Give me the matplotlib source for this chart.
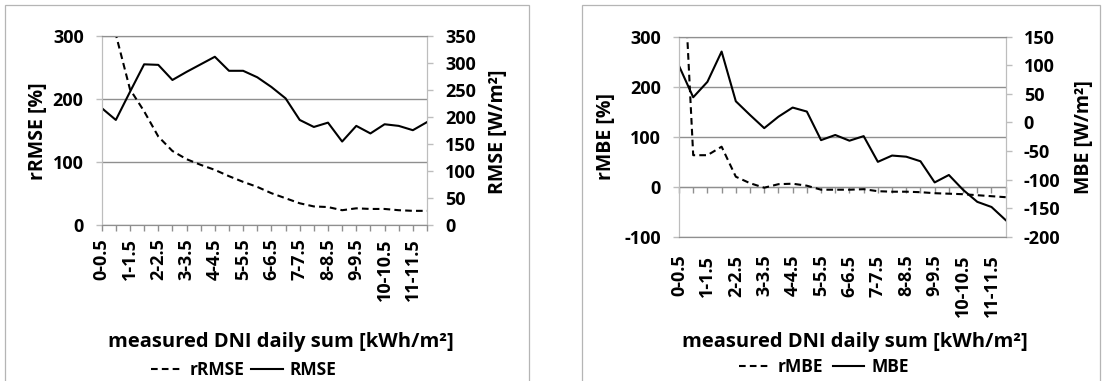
import matplotlib
matplotlib.use("Agg")
import matplotlib.pyplot as plt
from matplotlib.lines import Line2D
from matplotlib.patches import Rectangle
import numpy as np

plt.rcParams['font.family'] = ['Open Sans', 'DejaVu Sans']
plt.rcParams['font.weight'] = 'bold'
plt.rcParams['axes.unicode_minus'] = False

# ---- data ----
categories = ["0-0.5", "0.5-1", "1-1.5", "1.5-2", "2-2.5", "2.5-3", "3-3.5", "3.5-4",
              "4-4.5", "4.5-5", "5-5.5", "5.5-6", "6-6.5", "6.5-7", "7-7.5", "7.5-8",
              "8-8.5", "8.5-9", "9-9.5", "9.5-10", "10-10.5", "10.5-11", "11-11.5", "11.5-12"]

rrmse = [700, 302, 215, 180, 140, 117, 104, 95, 87, 77, 68, 60,
         50, 42, 34, 29, 28, 23, 26, 25, 25, 23, 22, 22]
rmse = [216, 194, 246, 297, 296, 268, 283, 297, 311, 285, 285, 273,
        255, 234, 194, 181, 189, 154, 183, 169, 186, 183, 175, 190]

rmbe = [630, 63, 63, 80, 20, 7, -2, 5, 6, 2, -6, -6,
        -6, -5, -9, -10, -10, -11, -13, -14, -15, -17, -19, -21]
mbe = [99, 44, 71, 124, 37, 13, -10, 10, 26, 19, -31, -22,
       -32, -24, -69, -58, -60, -68, -105, -92, -118, -139, -148, -171]

left_ticks_1 = [0, 100, 200, 300]
right_ticks_1 = [0, 50, 100, 150, 200, 250, 300, 350]
left_ticks_2 = [-100, 0, 100, 200, 300]
right_ticks_2 = [-200, -150, -100, -50, 0, 50, 100, 150]

xlabel = "measured DNI daily sum [kWh/m²]"

# ---- style ----
W, H = 1102, 381
fig = plt.figure(figsize=(W / 100, H / 100), dpi=100)
GRID = '#8f8f8f'
SPINE = '#bdbdbd'
FS = 13
YLFS = 14
XLFS = 14.5
LW = 1.5
DASH = (3.2, 2.0)

def px(x0, y0, x1, y1):
    return [x0 / W, 1 - y1 / H, (x1 - x0) / W, (y1 - y0) / H]

def ftext(x, y, s, size, rot=0):
    fig.text(x / W, 1 - y / H, s, ha='center', va='center', rotation=rot,
             fontsize=size, fontweight='bold')

def frame(x0, x1):
    fig.patches.append(Rectangle((x0 / W, -0.1), (x1 - x0) / W, 1.1 - 5 / H,
                                 transform=fig.transFigure, fill=False,
                                 edgecolor='#b5b5b5', lw=0.9))

xs = np.arange(len(categories))
labels = [c if i % 2 == 0 else "" for i, c in enumerate(categories)]

def setup(ax, ax2, lt, rt):
    ax.set_xlim(0, len(categories) - 1)
    ax.set_ylim(lt[0], lt[-1])
    ax2.set_ylim(rt[0], rt[-1])
    ax.set_yticks(lt)
    ax2.set_yticks(rt)
    ax.yaxis.grid(True, color=GRID, lw=1.0)
    ax.set_axisbelow(True)
    for a in (ax, ax2):
        a.spines['top'].set_color(GRID)
        a.spines['bottom'].set_color(GRID)
        a.spines['left'].set_color(SPINE)
        a.spines['right'].set_color(SPINE)
        a.tick_params(axis='y', length=4, width=1, color=SPINE, pad=9,
                      labelsize=FS)
    ax.set_xticks(xs)
    ax.set_xticklabels(labels, rotation=90, fontsize=FS, fontweight='bold')
    for t in ax.get_yticklabels() + ax2.get_yticklabels():
        t.set_fontweight('bold')

# ---- left chart ----
frame(5, 529)
ax = fig.add_axes(px(101.7, 35.7, 427, 224.7))
ax2 = ax.twinx()
ax.plot(xs, rrmse, color='black', lw=LW, dashes=DASH)
ax2.plot(xs, rmse, color='black', lw=LW)
setup(ax, ax2, left_ticks_1, right_ticks_1)
ax.tick_params(axis='x', length=4, width=1, color=GRID, pad=6)
ftext(38, 131, "rRMSE [%]", YLFS, 90)
ftext(498, 132, "RMSE [W/m²]", YLFS, 90)
ftext(281, 342, xlabel, XLFS)
h1 = [Line2D([], [], color='black', lw=LW, dashes=DASH),
      Line2D([], [], color='black', lw=LW)]
fig.legend(h1, ["rRMSE", "RMSE"], loc='center', bbox_to_anchor=(244 / W, 1 - 370 / H),
           ncol=2, frameon=False, handlelength=1.8, handletextpad=0.4,
           columnspacing=0.4, prop={'size': FS - 0.5, 'weight': 'bold'})

# ---- right chart ----
frame(582, 1100)
bx = fig.add_axes(px(679, 36.7, 1005.7, 236.7))
bx2 = bx.twinx()
bx.plot(xs, rmbe, color='black', lw=LW, dashes=DASH)
bx2.plot(xs, mbe, color='black', lw=LW)
setup(bx, bx2, left_ticks_2, right_ticks_2)
bx.tick_params(axis='x', length=0, pad=13)
zero_pos = (0 - left_ticks_2[0]) / (left_ticks_2[-1] - left_ticks_2[0])
sec = bx.secondary_xaxis(zero_pos)
sec.set_xticks(xs)
sec.set_xticklabels([])
sec.tick_params(axis='x', length=4, width=1, color=GRID, direction='out')
sec.spines['bottom'].set_color(GRID)
ftext(606, 137, "rMBE [%]", YLFS, 90)
ftext(1084, 137, "MBE [W/m²]", YLFS, 90)
ftext(855, 342, xlabel, XLFS)
h2 = [Line2D([], [], color='black', lw=LW, dashes=DASH),
      Line2D([], [], color='black', lw=LW)]
fig.legend(h2, ["rMBE", "MBE"], loc='center', bbox_to_anchor=(824 / W, 1 - 367 / H),
           ncol=2, frameon=False, handlelength=1.8, handletextpad=0.4,
           columnspacing=0.6, prop={'size': FS - 0.5, 'weight': 'bold'})

fig.savefig("out.png", dpi=100)
